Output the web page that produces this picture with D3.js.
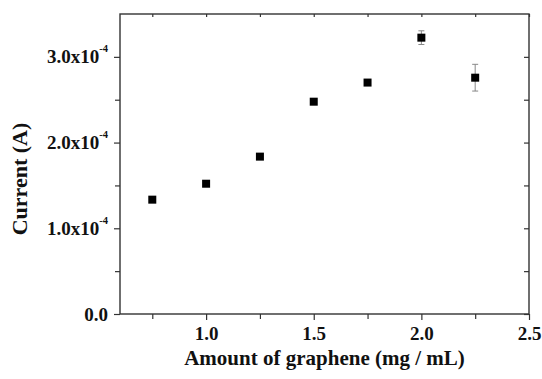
<!DOCTYPE html>
<html>
<head>
<meta charset="utf-8">
<script src="https://cdn.jsdelivr.net/npm/d3@7"></script>
<style>
  body { margin: 0; background: #fff; }
  svg text { font-family: "Liberation Serif", "Times New Roman", serif !important; font-weight: bold; }
</style>
</head>
<body>
<div id="chart"></div>
<script>
// data
var amount = [0.75, 1.0, 1.25, 1.5, 1.75, 2.0, 2.25];
var current = [1.334e-4, 1.52e-4, 1.836e-4, 2.477e-4, 2.70e-4, 3.224e-4, 2.757e-4];
var errors = [0.01e-4, 0.01e-4, 0.03e-4, 0.01e-4, 0.02e-4, 0.08e-4, 0.156e-4];
var xTicks = [1.0, 1.5, 2.0, 2.5];
var xMinor = [0.75, 1.25, 1.75, 2.25];
var yTicks = [0, 1e-4, 2e-4, 3e-4];
var yMinor = [0.5e-4, 1.5e-4, 2.5e-4];

var margin = {top: 14, right: 13, bottom: 65, left: 120},
    width = 542 - margin.left - margin.right,
    height = 379 - margin.top - margin.bottom;

var svg = d3.select("#chart")
  .append("svg")
    .attr("width", 542)
    .attr("height", 379)
  .append("g")
    .attr("transform", "translate(" + margin.left + "," + margin.top + ")");

var x = d3.scaleLinear().domain([0.6, 2.5]).range([0, width]);
var y = d3.scaleLinear().domain([0, 3.5e-4]).range([height, 0]);

var axisColor = "#333";

// frame
svg.append("rect")
  .attr("x", 0).attr("y", 0)
  .attr("width", width).attr("height", height)
  .attr("fill", "none")
  .attr("stroke", axisColor)
  .attr("stroke-width", 1.4);

// bottom axis (outward ticks)
var bottom = svg.append("g")
  .attr("transform", "translate(0," + height + ")")
  .call(d3.axisBottom(x).tickValues(xTicks).tickSize(6).tickPadding(6.5).tickFormat(d3.format(".1f")));
svg.append("g")
  .attr("transform", "translate(0," + height + ")")
  .call(d3.axisBottom(x).tickValues(xMinor).tickSize(5).tickFormat(""));

// top mirror ticks (inward)
svg.append("g")
  .call(d3.axisBottom(x).tickValues(xTicks.concat(xMinor)).tickSize(3).tickFormat(""));

// left axis
svg.append("g")
  .call(d3.axisLeft(y).tickValues(yTicks).tickSize(6).tickFormat(""));
svg.append("g")
  .call(d3.axisLeft(y).tickValues(yMinor).tickSize(5).tickFormat(""));

// right mirror ticks (inward)
svg.append("g")
  .attr("transform", "translate(" + width + ",0)")
  .call(d3.axisLeft(y).tickValues(yTicks.concat(yMinor)).tickSize(5).tickFormat(""));

svg.selectAll(".domain").attr("stroke", "none");
svg.selectAll(".tick line").attr("stroke", axisColor).attr("stroke-width", 1.2);

bottom.selectAll("text")
  .attr("font-size", "19px")
  .attr("fill", "#111");

// y tick labels with superscript exponent
var ylab = svg.append("g").selectAll("text")
  .data(yTicks)
  .enter()
  .append("text")
    .attr("x", -12)
    .attr("y", function(d) { return y(d) + 6.5; })
    .attr("text-anchor", "end")
    .attr("font-size", "19px")
    .attr("fill", "#111");
ylab.each(function(d) {
  var t = d3.select(this);
  if (d === 0) { t.text("0.0"); return; }
  t.append("tspan").text((d / 1e-4).toFixed(1) + "x10");
  t.append("tspan").attr("dy", -11).attr("font-size", "10.5px").text("-4");
});

// error bars
var eb = svg.append("g").selectAll("g")
  .data(amount)
  .enter()
  .append("g")
    .attr("stroke", "#888")
    .attr("stroke-width", 1);
eb.append("line")
  .attr("x1", function(d) { return x(d); })
  .attr("x2", function(d) { return x(d); })
  .attr("y1", function(d, i) { return y(current[i] - errors[i]); })
  .attr("y2", function(d, i) { return y(current[i] + errors[i]); });
eb.append("line")
  .attr("x1", function(d) { return x(d) - 3; })
  .attr("x2", function(d) { return x(d) + 3; })
  .attr("y1", function(d, i) { return y(current[i] + errors[i]); })
  .attr("y2", function(d, i) { return y(current[i] + errors[i]); });
eb.append("line")
  .attr("x1", function(d) { return x(d) - 3; })
  .attr("x2", function(d) { return x(d) + 3; })
  .attr("y1", function(d, i) { return y(current[i] - errors[i]); })
  .attr("y2", function(d, i) { return y(current[i] - errors[i]); });

// square markers
svg.append("g").selectAll("rect")
  .data(amount)
  .enter()
  .append("rect")
    .attr("x", function(d) { return x(d) - 4; })
    .attr("y", function(d, i) { return y(current[i]) - 4; })
    .attr("width", 8)
    .attr("height", 8)
    .attr("fill", "#000");

// axis titles
svg.append("text")
  .attr("x", width / 2)
  .attr("y", height + 51)
  .attr("text-anchor", "middle")
  .attr("font-size", "21px")
  .attr("fill", "#111")
  .text("Amount of graphene (mg / mL)");

svg.append("text")
  .attr("transform", "translate(" + (-93) + "," + (165) + ")rotate(-90)")
  .attr("text-anchor", "middle")
  .attr("font-size", "22px")
  .attr("fill", "#111")
  .text("Current (A)");
</script>
</body>
</html>
